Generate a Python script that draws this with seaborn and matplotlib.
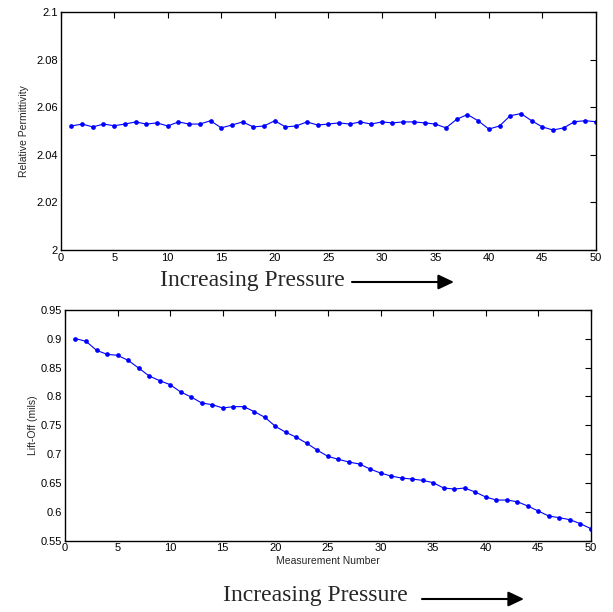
import numpy as np
import pandas as pd
import seaborn as sns
import matplotlib.pyplot as plt
from matplotlib.patches import FancyArrowPatch
from matplotlib.ticker import FuncFormatter

# Set style
sns.set_theme(style="white")
plt.rcParams['font.family'] = ['Liberation Sans', 'DejaVu Sans']

# Data
measurement = list(range(1, 51))

permittivity = [
    2.0521, 2.0529, 2.0517, 2.0529, 2.0522, 2.0529, 2.0538, 2.0529, 2.0534, 2.0521,
    2.0538, 2.0529, 2.0529, 2.0543, 2.0513, 2.0525, 2.0538, 2.0517, 2.0521, 2.0543,
    2.0517, 2.0521, 2.0538, 2.0525, 2.0529, 2.0534, 2.0529, 2.0538, 2.0529, 2.0538,
    2.0534, 2.0538, 2.0538, 2.0534, 2.0529, 2.0513, 2.0549, 2.0569, 2.0543, 2.0508,
    2.0521, 2.0564, 2.0573, 2.0543, 2.0517, 2.0504, 2.0513, 2.0539, 2.0543, 2.0539,
]

lift_off = [
    0.9003, 0.8957, 0.8801, 0.8731, 0.8714, 0.8627, 0.8494, 0.8356, 0.8275, 0.8205,
    0.8078, 0.7991, 0.7887, 0.7858, 0.7801, 0.7824, 0.7824, 0.7737, 0.7639, 0.7483,
    0.7379, 0.7292, 0.7188, 0.7067, 0.6962, 0.6910, 0.6864, 0.6829, 0.6743, 0.6673,
    0.6621, 0.6586, 0.6569, 0.6546, 0.6506, 0.6413, 0.6396, 0.6413, 0.6344, 0.6257,
    0.6205, 0.6205, 0.6176, 0.6101, 0.6014, 0.5927, 0.5899, 0.5864, 0.5795, 0.5708,
]

df = pd.DataFrame({'n': measurement, 'perm': permittivity, 'lift': lift_off})

fig = plt.figure(figsize=(6.13, 6.12), dpi=100)
ax1 = fig.add_axes([0.099, 0.5915, 0.873, 0.389])
ax2 = fig.add_axes([0.106, 0.1165, 0.858, 0.377])

line_kw = dict(color='#0000ff', marker='o', markersize=3.4, linewidth=0.8,
               markeredgewidth=0)

sns.lineplot(data=df, x='n', y='perm', ax=ax1, **line_kw)
sns.lineplot(data=df, x='n', y='lift', ax=ax2, **line_kw)

ax1.set_ylim(2.0, 2.1)
ax1.set_yticks([2.0, 2.02, 2.04, 2.06, 2.08, 2.1])
ax2.set_ylim(0.55, 0.95)
ax2.set_yticks([0.55, 0.6, 0.65, 0.7, 0.75, 0.8, 0.85, 0.9, 0.95])

fmt = FuncFormatter(lambda v, p: ('%.2f' % v).rstrip('0').rstrip('.'))
for ax in (ax1, ax2):
    ax.set_xlim(0, 50)
    ax.set_xticks(range(0, 51, 5))
    ax.yaxis.set_major_formatter(fmt)
    ax.tick_params(direction='in', length=4, width=0.8, top=True, right=True,
                   labelsize=8, colors='black', pad=2)
    for s in ax.spines.values():
        s.set_color('black')
        s.set_linewidth(1.0)
    ax.set_xlabel('')
    ax.set_ylabel('')

ax1.set_ylabel('Relative Permittivity', fontsize=7.5, labelpad=5)
ax2.set_ylabel('Lift-Off (mils)', fontsize=7.5, labelpad=2)
ax2.set_xlabel('Measurement Number', fontsize=7.5, labelpad=2)

# "Increasing Pressure" annotations with arrows
serif = ['Liberation Serif', 'DejaVu Serif']
arrow = dict(arrowstyle='-|>,head_length=0.95,head_width=0.45', color='black',
             lw=1.5, shrinkA=0, shrinkB=0, mutation_scale=10)

fig.text(160 / 613, 1 - 281 / 612, 'Increasing Pressure', family=serif,
         fontsize=17, ha='left', va='center')
fig.add_artist(FancyArrowPatch(
    (352 / 613, 1 - 282 / 612), (454 / 613, 1 - 282 / 612),
    transform=fig.transFigure, **arrow))

fig.text(223 / 613, 1 - 596 / 612, 'Increasing Pressure', family=serif,
         fontsize=17, ha='left', va='center')
fig.add_artist(FancyArrowPatch(
    (422 / 613, 1 - 599 / 612), (524 / 613, 1 - 599 / 612),
    transform=fig.transFigure, **arrow))

plt.savefig('out.png', dpi=100)
